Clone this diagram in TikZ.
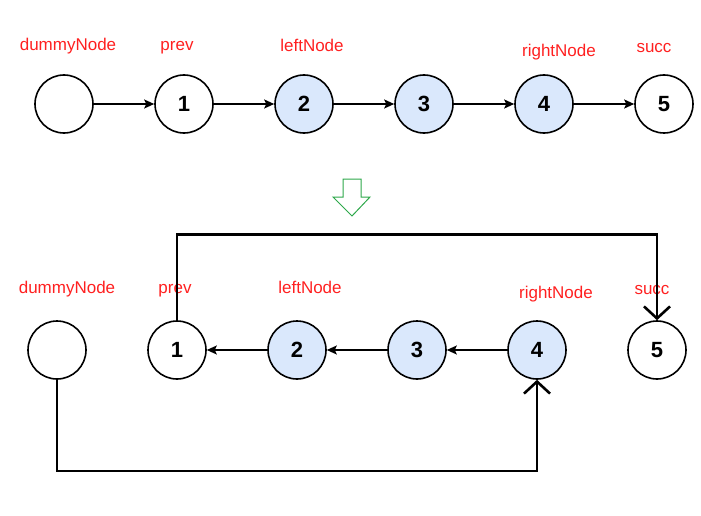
\documentclass[tikz,border=0pt]{standalone}
\usepackage{fontspec}
\setmainfont{Liberation Sans}
\usepackage{xcolor}
\usetikzlibrary{arrows.meta}
\definecolor{lnblue}{HTML}{DAE8FC}
\definecolor{lnred}{HTML}{FF2020}
\definecolor{lngreen}{HTML}{2DA84A}

\begin{document}
\begin{tikzpicture}[x=1pt, y=-1pt,
  lnode/.style={draw, circle, line width=1.6pt, minimum size=58pt, inner sep=0,
    font=\fontsize{22}{24}\selectfont\bfseries},
  lptr/.style={text=lnred, font=\fontsize{17}{19}\selectfont},
  nxt/.style={line width=1.6pt, -{Stealth[length=10pt, width=9pt, inset=2pt]}},
  jump/.style={line width=2.6pt, -{Straight Barb[length=12pt, width=26pt]}}]
  \useasboundingbox (0,0) rectangle (701,516);
  % before
  \foreach \i/\t/\f in {0//white, 1/1/white, 2/2/lnblue, 3/3/lnblue, 4/4/lnblue, 5/5/white}{
  \node[lnode, fill=\f] (t\i) at (64+120*\i, 104) {\t};
  }
  \foreach \i/\j in {0/1, 1/2, 2/3, 3/4, 4/5}{
  \draw[nxt] (t\i) -- (t\j);
  }
  \node[lptr] (tl0) at (68, 46) {dummyNode};
  \node[lptr] (tl1) at (177, 48) {prev};
  \node[lptr] (tl2) at (312, 45) {leftNode};
  \node[lptr] (tl4) at (559, 52) {rightNode};
  \node[lptr] (tl5) at (654, 48) {succ};
  % hollow arrow
  \draw[lngreen, line width=1pt] (343,179) -- (361,179) -- (361,197) -- (370,197)
    -- (352,216) -- (333,197) -- (343,197) -- cycle;
  % after
  \foreach \i/\t/\f in {0//white, 1/1/white, 2/2/lnblue, 3/3/lnblue, 4/4/lnblue, 5/5/white}{
  \node[lnode, fill=\f] (b\i) at (57+120*\i, 350) {\t};
  }
  \foreach \i/\j in {1/2, 2/3, 3/4}{
  \draw[nxt] (b\j) -- (b\i);
  }
  \node[lptr] (bl0) at (67, 289) {dummyNode};
  \node[lptr] (bl1) at (175, 291) {prev};
  \node[lptr] (bl2) at (310, 287) {leftNode};
  \node[lptr] (bl4) at (556, 294) {rightNode};
  \node[lptr] (bl5) at (652, 290) {succ};
  \draw[jump] (b1.north) -- ++(0,-86) -| (b5.north);
  \draw[jump] (b0.south) -- ++(0,91) -| (b4.south);
\end{tikzpicture}
\end{document}
